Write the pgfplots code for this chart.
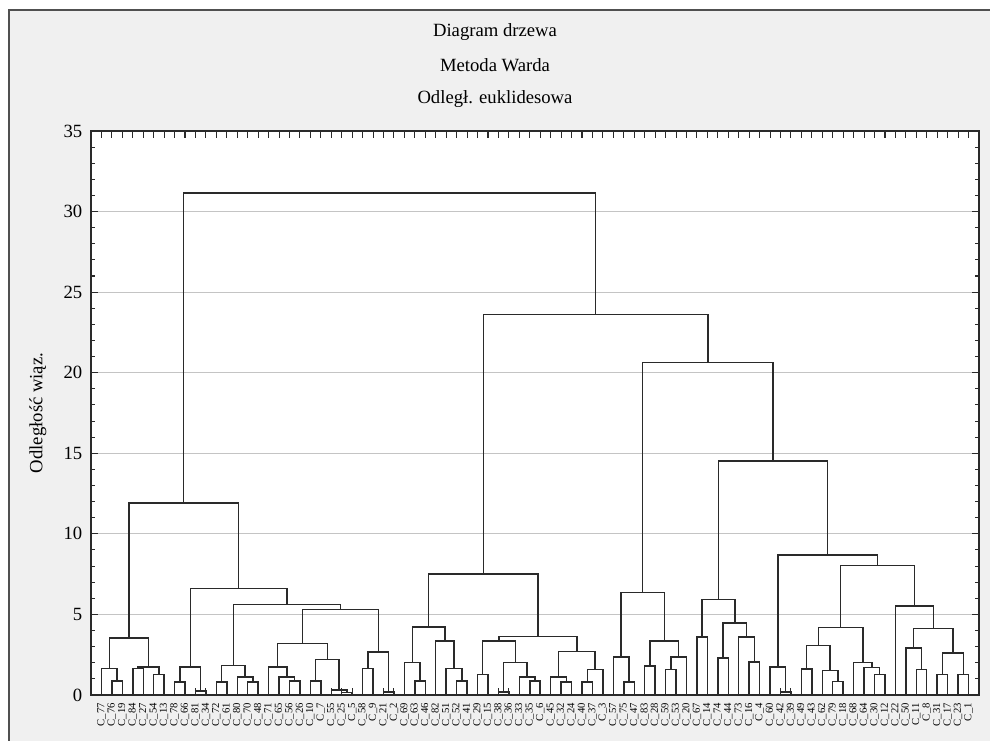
\documentclass[border=0pt]{standalone}
\usepackage{fontspec}
\setmainfont{Liberation Serif}
\usepackage{pgfplots}
\pgfplotsset{compat=1.18}
\definecolor{bg}{HTML}{F0F0F0}
\definecolor{framec}{HTML}{505050}
\definecolor{gridc}{HTML}{C4C4C4}
\definecolor{ln}{HTML}{2A2A2A}
\begin{document}
\begin{tikzpicture}[x=0.75pt,y=0.75pt]
\useasboundingbox (0,0) rectangle (990,741);
\fill[white] (0,0) rectangle (990,741);
\fill[bg] (9,0) rectangle (990,731);
\draw[framec, line width=1.5pt] (9,0) -- (9,731) -- (990,731);
\node[font=\fontsize{14}{16}\selectfont] at (495,709) {Diagram drzewa};
\node[font=\fontsize{14}{16}\selectfont] at (495,676) {Metoda Warda};
\node[font=\fontsize{14}{16}\selectfont] at (495,642) {Odległ. euklidesowa};
\begin{axis}[
  at={(68.25pt,34.5pt)}, anchor=origin,
  scale only axis, width=666pt, height=423pt,
  xmin=0, xmax=85, ymin=0, ymax=35,
  axis background/.style={fill=white},
  xtick={1,...,84},
  xticklabels={C\_77,C\_76,C\_19,C\_84,C\_27,C\_54,C\_13,C\_78,C\_66,C\_81,C\_34,C\_72,C\_61,C\_80,C\_70,C\_48,C\_71,C\_65,C\_56,C\_26,C\_10,C\_7,C\_55,C\_25,C\_5,C\_58,C\_9,C\_21,C\_2,C\_69,C\_63,C\_46,C\_82,C\_51,C\_52,C\_41,C\_29,C\_15,C\_38,C\_36,C\_33,C\_35,C\_6,C\_45,C\_32,C\_24,C\_40,C\_37,C\_3,C\_57,C\_75,C\_47,C\_83,C\_28,C\_59,C\_53,C\_20,C\_67,C\_14,C\_74,C\_44,C\_73,C\_16,C\_4,C\_60,C\_42,C\_39,C\_49,C\_43,C\_62,C\_79,C\_18,C\_68,C\_64,C\_30,C\_12,C\_22,C\_50,C\_11,C\_8,C\_31,C\_17,C\_23,C\_1},
  xticklabel style={rotate=90, anchor=east, font=\fontsize{8}{9}\selectfont, inner sep=1pt},
  xticklabel shift=5pt,
  xtick pos=both, xticklabel pos=lower,
  ytick={0,5,...,35},
  minor y tick num=4,
  ytick pos=both, yticklabel pos=left,
  tick align=inside,
  major tick length=5pt, minor tick length=3pt,
  tick style={ln, line width=0.8pt},
  ymajorgrids, grid style={gridc, line width=0.6pt},
  yticklabel style={font=\fontsize{14}{16}\selectfont},
  yticklabel shift=3pt,
  /pgf/number format/assume math mode=true,
  ylabel={Odległość wiąz.},
  ylabel style={font=\fontsize{14}{16}\selectfont, at={(axis description cs:-0.0597,0.5)}, anchor=center},
  axis line style={ln, line width=1pt},
  every axis plot post/.append style={ln, solid, line width=1.1pt, mark=none},
]
% cluster A
\addplot coordinates {(2,0) (2,0.86) (3,0.86) (3,0)};
\addplot coordinates {(1,0) (1,1.63) (2.5,1.63) (2.5,0.86)};
\addplot coordinates {(4,0) (4,1.63) (5,1.63) (5,0)};
\addplot coordinates {(6,0) (6,1.26) (7,1.26) (7,0)};
\addplot coordinates {(4.5,1.63) (4.5,1.73) (6.5,1.73) (6.5,1.26)};
\addplot coordinates {(1.75,1.63) (1.75,3.55) (5.5,3.55) (5.5,1.73)};
% cluster B
\addplot coordinates {(8,0) (8,0.80) (9,0.80) (9,0)};
\addplot coordinates {(10,0) (10,0.25) (11,0.25) (11,0)};
\addplot coordinates {(8.5,0.80) (8.5,1.73) (10.5,1.73) (10.5,0.25)};
\addplot coordinates {(12,0) (12,0.80) (13,0.80) (13,0)};
\addplot coordinates {(15,0) (15,0.80) (16,0.80) (16,0)};
\addplot coordinates {(14,0) (14,1.11) (15.5,1.11) (15.5,0.80)};
\addplot coordinates {(12.5,0.80) (12.5,1.84) (14.75,1.84) (14.75,1.11)};
\addplot coordinates {(19,0) (19,0.86) (20,0.86) (20,0)};
\addplot coordinates {(18,0) (18,1.11) (19.5,1.11) (19.5,0.86)};
\addplot coordinates {(17,0) (17,1.73) (18.75,1.73) (18.75,1.11)};
\addplot coordinates {(21,0) (21,0.86) (22,0.86) (22,0)};
\addplot coordinates {(24,0) (24,0.15) (25,0.15) (25,0)};
\addplot coordinates {(23,0) (23,0.30) (24.5,0.30) (24.5,0.15)};
\addplot coordinates {(21.5,0.86) (21.5,2.19) (23.75,2.19) (23.75,0.30)};
\addplot coordinates {(17.875,1.73) (17.875,3.19) (22.625,3.19) (22.625,2.19)};
\addplot coordinates {(26,0) (26,1.63) (27,1.63) (27,0)};
\addplot coordinates {(28,0) (28,0.20) (29,0.20) (29,0)};
\addplot coordinates {(26.5,1.63) (26.5,2.66) (28.5,2.66) (28.5,0.20)};
\addplot coordinates {(20.25,3.19) (20.25,5.30) (27.5,5.30) (27.5,2.66)};
\addplot coordinates {(13.625,1.84) (13.625,5.61) (23.875,5.61) (23.875,5.30)};
\addplot coordinates {(9.5,1.73) (9.5,6.60) (18.75,6.60) (18.75,5.61)};
\addplot coordinates {(3.625,3.55) (3.625,11.92) (14.125,11.92) (14.125,6.60)};
% cluster C
\addplot coordinates {(31,0) (31,0.86) (32,0.86) (32,0)};
\addplot coordinates {(30,0) (30,2.00) (31.5,2.00) (31.5,0.86)};
\addplot coordinates {(35,0) (35,0.86) (36,0.86) (36,0)};
\addplot coordinates {(34,0) (34,1.63) (35.5,1.63) (35.5,0.86)};
\addplot coordinates {(33,0) (33,3.35) (34.75,3.35) (34.75,1.63)};
\addplot coordinates {(30.75,2.00) (30.75,4.22) (33.875,4.22) (33.875,3.35)};
\addplot coordinates {(37,0) (37,1.26) (38,1.26) (38,0)};
\addplot coordinates {(39,0) (39,0.20) (40,0.20) (40,0)};
\addplot coordinates {(42,0) (42,0.86) (43,0.86) (43,0)};
\addplot coordinates {(41,0) (41,1.11) (42.5,1.11) (42.5,0.86)};
\addplot coordinates {(39.5,0.20) (39.5,2.00) (41.75,2.00) (41.75,1.11)};
\addplot coordinates {(37.5,1.26) (37.5,3.35) (40.625,3.35) (40.625,2.00)};
\addplot coordinates {(45,0) (45,0.80) (46,0.80) (46,0)};
\addplot coordinates {(44,0) (44,1.11) (45.5,1.11) (45.5,0.80)};
\addplot coordinates {(47,0) (47,0.80) (48,0.80) (48,0)};
\addplot coordinates {(47.5,0.80) (47.5,1.59) (49,1.59) (49,0)};
\addplot coordinates {(44.75,1.11) (44.75,2.70) (48.25,2.70) (48.25,1.59)};
\addplot coordinates {(39.0625,3.35) (39.0625,3.64) (46.5,3.64) (46.5,2.70)};
\addplot coordinates {(32.3125,4.22) (32.3125,7.50) (42.78125,7.50) (42.78125,3.64)};
% cluster D
\addplot coordinates {(51,0) (51,0.80) (52,0.80) (52,0)};
\addplot coordinates {(50,0) (50,2.35) (51.5,2.35) (51.5,0.80)};
\addplot coordinates {(53,0) (53,1.79) (54,1.79) (54,0)};
\addplot coordinates {(55,0) (55,1.57) (56,1.57) (56,0)};
\addplot coordinates {(55.5,1.57) (55.5,2.35) (57,2.35) (57,0)};
\addplot coordinates {(53.5,1.79) (53.5,3.35) (56.25,3.35) (56.25,2.35)};
\addplot coordinates {(50.75,2.35) (50.75,6.36) (54.875,6.36) (54.875,3.35)};
% cluster E
\addplot coordinates {(58,0) (58,3.60) (59,3.60) (59,0)};
\addplot coordinates {(60,0) (60,2.29) (61,2.29) (61,0)};
\addplot coordinates {(63,0) (63,2.04) (64,2.04) (64,0)};
\addplot coordinates {(62,0) (62,3.60) (63.5,3.60) (63.5,2.04)};
\addplot coordinates {(60.5,2.29) (60.5,4.47) (62.75,4.47) (62.75,3.60)};
\addplot coordinates {(58.5,3.60) (58.5,5.94) (61.625,5.94) (61.625,4.47)};
% cluster F
\addplot coordinates {(66,0) (66,0.20) (67,0.20) (67,0)};
\addplot coordinates {(65,0) (65,1.73) (66.5,1.73) (66.5,0.20)};
\addplot coordinates {(68,0) (68,1.61) (69,1.61) (69,0)};
\addplot coordinates {(71,0) (71,0.84) (72,0.84) (72,0)};
\addplot coordinates {(70,0) (70,1.52) (71.5,1.52) (71.5,0.84)};
\addplot coordinates {(68.5,1.61) (68.5,3.06) (70.75,3.06) (70.75,1.52)};
\addplot coordinates {(75,0) (75,1.26) (76,1.26) (76,0)};
\addplot coordinates {(74,0) (74,1.69) (75.5,1.69) (75.5,1.26)};
\addplot coordinates {(73,0) (73,2.00) (74.75,2.00) (74.75,1.69)};
\addplot coordinates {(69.625,3.06) (69.625,4.18) (73.875,4.18) (73.875,2.00)};
\addplot coordinates {(79,0) (79,1.59) (80,1.59) (80,0)};
\addplot coordinates {(78,0) (78,2.92) (79.5,2.92) (79.5,1.59)};
\addplot coordinates {(81,0) (81,1.28) (82,1.28) (82,0)};
\addplot coordinates {(83,0) (83,1.28) (84,1.28) (84,0)};
\addplot coordinates {(81.5,1.28) (81.5,2.60) (83.5,2.60) (83.5,1.28)};
\addplot coordinates {(78.75,2.92) (78.75,4.12) (82.5,4.12) (82.5,2.60)};
\addplot coordinates {(77,0) (77,5.51) (80.625,5.51) (80.625,4.12)};
\addplot coordinates {(71.75,4.18) (71.75,8.02) (78.8125,8.02) (78.8125,5.51)};
\addplot coordinates {(65.75,1.73) (65.75,8.68) (75.28125,8.68) (75.28125,8.02)};
% upper links
\addplot coordinates {(60.0625,5.94) (60.0625,14.53) (70.515625,14.53) (70.515625,8.68)};
\addplot coordinates {(52.8125,6.36) (52.8125,20.63) (65.2890625,20.63) (65.2890625,14.53)};
\addplot coordinates {(37.546875,7.50) (37.546875,23.62) (59.05078125,23.62) (59.05078125,20.63)};
\addplot coordinates {(8.875,11.92) (8.875,31.15) (48.298828125,31.15) (48.298828125,23.62)};
\end{axis}
\end{tikzpicture}
\end{document}
